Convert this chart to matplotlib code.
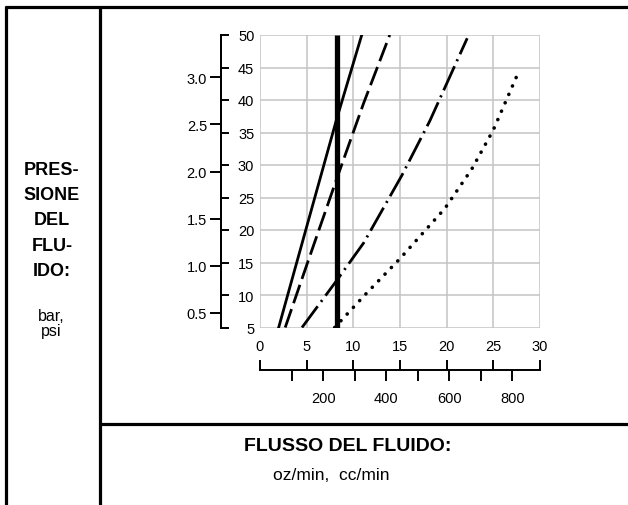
"""
Grafico pressione/flusso del fluido - ricostruzione
"""
import matplotlib
matplotlib.use('Agg')
import matplotlib.pyplot as plt
from matplotlib.lines import Line2D
from matplotlib.ticker import FixedLocator, FixedFormatter

plt.rcParams['font.family'] = ['Liberation Sans', 'DejaVu Sans']
plt.rcParams['lines.scale_dashes'] = False

W, H = 628, 506
PSI_PER_BAR = 14.5
CC_PER_OZ = 29.5735

# curve (oz/min, psi)
solid_oz = [2.0, 5.0, 8.2, 10.9]
solid_psi = [5, 20.5, 37.0, 50]
dash_oz = [2.7, 5.1, 8.25, 11.1, 13.9]
dash_psi = [5, 15.0, 28.0, 39.5, 50]
dashdot_oz = [4.5, 8.2, 11.1, 15.2, 18.2, 22.2]
dashdot_psi = [5, 12.2, 18.0, 28.4, 36.8, 49.5]
dot_oz = [8.0, 11.3, 15.0, 19.8, 22.7, 25.0, 27.7]
dot_psi = [5, 10.1, 15.6, 23.3, 29.4, 35.4, 44.3]
limit_oz = [8.2, 8.2]
limit_psi = [5, 50]

# assi
oz_ticks = [0, 5, 10, 15, 20, 25, 30]
psi_ticks = [5, 10, 15, 20, 25, 30, 35, 40, 45, 50]
bar_ticks = [0.5, 1.0, 1.5, 2.0, 2.5, 3.0]
cc_ticks = [100, 200, 300, 400, 500, 600, 700, 800]
cc_labels = ['', '200', '', '400', '', '600', '', '800']


def fx(px):
    return px / W


def fy(py):
    return 1 - py / H


fig = plt.figure(figsize=(W / 100, H / 100), dpi=100)

# cornice della tabella
frame = dict(color='black', linewidth=2.3, solid_capstyle='butt')
fig.add_artist(Line2D([fx(4.5), fx(628)], [fy(7.5), fy(7.5)], **frame))
fig.add_artist(Line2D([fx(6), fx(6)], [fy(6.5), fy(506)], **frame))
fig.add_artist(Line2D([fx(100), fx(100)], [fy(6.5), fy(506)], **frame))
fig.add_artist(Line2D([fx(100), fx(628)], [fy(425), fy(425)], **frame))

# area del grafico
x0, x1 = 260, 540
y_top, y_bot = 36, 328.5
ax = fig.add_axes([fx(x0), fy(y_bot), (x1 - x0) / W, (y_bot - y_top) / H])
ax.set_xlim(0, 30)
ax.set_ylim(5, 50)
ax.set_xticks(oz_ticks)
ax.set_yticks(psi_ticks)
ax.grid(True, color='#c4c4c4', linewidth=1.1)
ax.set_axisbelow(True)
for s in ax.spines.values():
    s.set_visible(False)
ax.tick_params(axis='x', length=0, pad=8, labelsize=10.5)
ax.tick_params(axis='y', length=0, labelleft=False)

ax.plot(solid_oz, solid_psi, color='black', linewidth=2.0)
ax.plot(dash_oz, dash_psi, color='black', linewidth=2.0, dashes=(14, 4.5))
ax.plot(dashdot_oz, dashdot_psi, color='black', linewidth=2.0,
        dashes=(19, 4, 1.5, 4))
ax.plot(dot_oz, dot_psi, color='black', linewidth=2.6, dashes=(0.1, 6.5),
        dash_capstyle='round')
ax.plot(limit_oz, limit_psi, color='black', linewidth=3.8, solid_capstyle='butt')

# asse psi / bar
spine_x = 221
ax_p = fig.add_axes([fx(spine_x) - 0.001, fy(y_bot), 0.001, (y_bot - y_top) / H])
ax_p.set_ylim(5, 50)
ax_p.patch.set_visible(False)
ax_p.xaxis.set_visible(False)
for k in ['left', 'top', 'bottom']:
    ax_p.spines[k].set_visible(False)
ax_p.spines['right'].set_linewidth(1.4)
ax_p.yaxis.tick_right()
ax_p.set_yticks(psi_ticks)
ax_p.tick_params(axis='y', direction='out', length=6, width=1.4, pad=18,
                 labelsize=10.5)
for lab in ax_p.get_yticklabels():
    lab.set_horizontalalignment('right')

ax_b = fig.add_axes([fx(spine_x), fy(y_bot), 0.001, (y_bot - y_top) / H])
ax_b.set_ylim(5 / PSI_PER_BAR, 50 / PSI_PER_BAR)
ax_b.patch.set_visible(False)
ax_b.xaxis.set_visible(False)
for k in ['right', 'top', 'bottom']:
    ax_b.spines[k].set_visible(False)
ax_b.spines['left'].set_linewidth(1.4)
ax_b.set_yticks(bar_ticks)
ax_b.set_yticklabels([f'{v:.1f}' for v in bar_ticks])
ax_b.tick_params(axis='y', direction='out', length=8, width=1.4, pad=2,
                 labelsize=10.5)

# asse oz / cc
line_y = 372
ax_o = fig.add_axes([fx(x0), fy(line_y), (x1 - x0) / W, 0.001])
ax_o.set_xlim(0, 30)
ax_o.patch.set_visible(False)
ax_o.yaxis.set_visible(False)
for k in ['left', 'right', 'bottom']:
    ax_o.spines[k].set_visible(False)
ax_o.spines['top'].set_linewidth(1.4)
ax_o.xaxis.tick_top()
ax_o.set_xticks(oz_ticks)
ax_o.tick_params(axis='x', direction='out', length=7.5, width=1.4,
                 labeltop=False)

ax_c = fig.add_axes([fx(x0), fy(line_y), (x1 - x0) / W, 0.001])
ax_c.set_xlim(0, 30 * CC_PER_OZ)
ax_c.patch.set_visible(False)
ax_c.yaxis.set_visible(False)
for k in ['left', 'right', 'top', 'bottom']:
    ax_c.spines[k].set_visible(False)
ax_c.xaxis.set_major_locator(FixedLocator(cc_ticks))
ax_c.xaxis.set_major_formatter(FixedFormatter(cc_labels))
ax_c.tick_params(axis='x', direction='out', length=7.5, width=1.4, pad=7,
                 labelsize=10.5)

# testi
fig.text(fx(52), fy(221), 'PRES-\nSIONE\nDEL\nFLU-\nIDO:', ha='center',
         va='center', fontsize=13, fontweight='bold', linespacing=1.63)
fig.text(fx(51), fy(324), 'bar,\npsi', ha='center', va='center',
         fontsize=11.5, linespacing=0.95)
fig.text(fx(348), fy(447), 'FLUSSO DEL FLUIDO:', ha='center', va='center',
         fontsize=14, fontweight='bold')
fig.text(fx(331), fy(476), 'oz/min,  cc/min', ha='center', va='center',
         fontsize=12.5)

fig.savefig('out.png', dpi=100)
plt.close(fig)
